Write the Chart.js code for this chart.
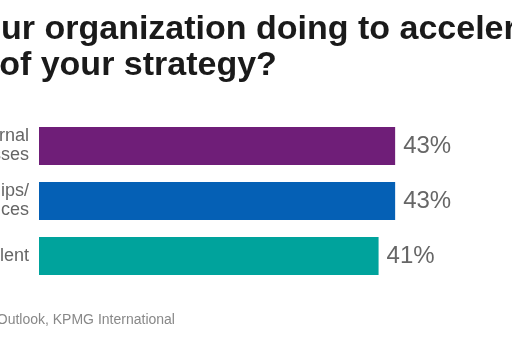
<!DOCTYPE html>
<html>
<head>
<meta charset="utf-8">
<script src="https://cdn.jsdelivr.net/npm/chart.js@4/dist/chart.umd.min.js"></script>
<style>
  html, body { margin: 0; padding: 0; background: #fff; overflow: hidden; width: 512px; height: 341px; }
  #wrap { position: absolute; left: -169px; top: 0; width: 912px; height: 341px; }
</style>
</head>
<body>
<div id="wrap"><canvas id="c" width="912" height="341"></canvas></div>
<script>
const titleLines = ["What is your organization doing to accelerate the", "execution of your strategy?"];
const sourceText = "Source: 2019 Global CEO Outlook, KPMG International";
const categories = [["Improving internal", "processes"], ["Strategic partnerships/", "alliances"], ["Acquiring talent"]];
const values = [43, 43, 41];
const barColors = ["#6f1e78", "#0560b5", "#00a39c"];

const valueLabels = {
  id: 'valueLabels',
  afterDatasetsDraw(chart) {
    const ctx = chart.ctx;
    const meta = chart.getDatasetMeta(0);
    ctx.save();
    ctx.font = '24px "Liberation Sans", Arial, sans-serif';
    ctx.fillStyle = '#666';
    ctx.textAlign = 'left';
    ctx.textBaseline = 'middle';
    meta.data.forEach((el, i) => {
      ctx.fillText(values[i] + '%', el.x + 8, el.y);
    });
    ctx.restore();
  }
};

new Chart(document.getElementById('c'), {
  type: 'bar',
  data: {
    labels: categories,
    datasets: [{ data: values, backgroundColor: barColors, borderWidth: 0, barPercentage: 0.69, categoryPercentage: 1 }]
  },
  options: {
    indexAxis: 'y',
    responsive: false,
    animation: false,
    layout: { padding: 0 },
    plugins: {
      legend: { display: false },
      tooltip: { enabled: false },
      title: {
        display: true, text: titleLines, align: 'start', color: '#1a1a1a',
        font: { family: '"Liberation Sans", Arial, sans-serif', size: 34, weight: 'bold', lineHeight: '36px' },
        padding: { top: 12, bottom: 34.5 }
      },
      subtitle: {
        display: true, text: sourceText, align: 'start', position: 'bottom', color: '#888',
        font: { family: '"Liberation Sans", Arial, sans-serif', size: 14, weight: 'normal', lineHeight: 1.2 },
        padding: { top: 28.2, bottom: 12.5 }
      }
    },
    scales: {
      x: { display: false, min: 0, max: 85 },
      y: {
        grid: { display: false, drawTicks: false },
        border: { display: false },
        ticks: { color: '#666', padding: 10, font: { family: '"Liberation Sans", Arial, sans-serif', size: 18, lineHeight: '19px' } },
        afterFit(scale) { scale.width = 208; }
      }
    }
  },
  plugins: [valueLabels]
});
</script>
</body>
</html>
